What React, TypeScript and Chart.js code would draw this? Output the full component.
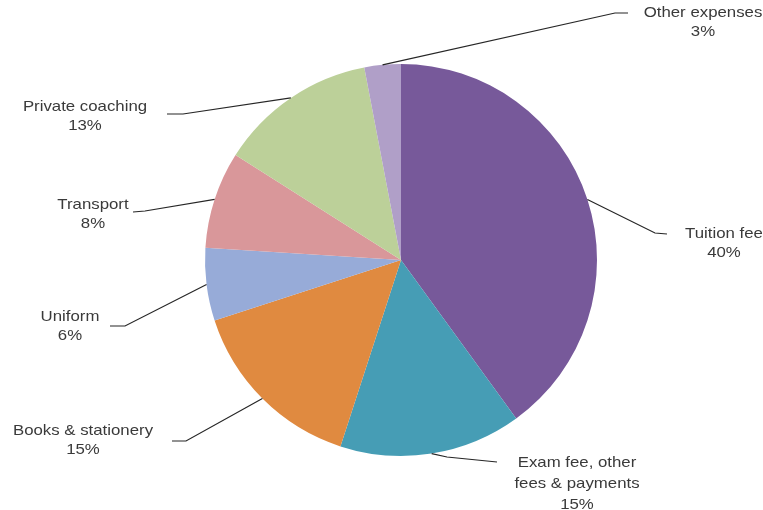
import React, { useEffect, useRef } from "react";
import { Chart, registerables } from "chart.js";

Chart.register(...registerables);

const categories = [
  "Tuition fee",
  "Exam fee, other fees & payments",
  "Books & stationery",
  "Uniform",
  "Transport",
  "Private coaching",
  "Other expenses",
];
const shares = [40, 15, 15, 6, 8, 13, 3];
const labelLines = [
  ["Tuition fee", "40%"],
  ["Exam fee, other", "fees & payments", "15%"],
  ["Books & stationery", "15%"],
  ["Uniform", "6%"],
  ["Transport", "8%"],
  ["Private coaching", "13%"],
  ["Other expenses", "3%"],
];
const colors = ["#77599A", "#469DB5", "#E08A40", "#97ABD8", "#D9979A", "#BCD099", "#B09FC8"];

// label layout: text centre x, first-line y, elbow point, end point
const labelLayout = [
  { tx: 724, ty: 234, gap: 19, elbow: [655, 233], end: [667, 234] },
  { tx: 577, ty: 463, gap: 21, elbow: [447, 457], end: [497, 462] },
  { tx: 83, ty: 431, gap: 19, elbow: [186, 441], end: [172, 441] },
  { tx: 70, ty: 317, gap: 19, elbow: [125, 326], end: [110, 326] },
  { tx: 93, ty: 205, gap: 19, elbow: [145, 211], end: [133, 212] },
  { tx: 85, ty: 107, gap: 19, elbow: [183, 114], end: [167, 114] },
  { tx: 703, ty: 13, gap: 19, elbow: [615, 13], end: [628, 13] },
];

const leaderPlugin = {
  id: "leaders",
  afterDraw(chart: any) {
    const ctx = chart.ctx;
    const meta = chart.getDatasetMeta(0);
    ctx.save();
    meta.data.forEach((arc: any, i: number) => {
      const p = arc.getProps(["x", "y", "startAngle", "endAngle", "outerRadius"], true);
      const mid = (p.startAngle + p.endAngle) / 2;
      const sx = p.x + Math.cos(mid) * p.outerRadius;
      const sy = p.y + Math.sin(mid) * p.outerRadius;
      const L = labelLayout[i];
      ctx.strokeStyle = "#262626";
      ctx.lineWidth = 1.2;
      ctx.beginPath();
      ctx.moveTo(sx, sy);
      ctx.lineTo(L.elbow[0], L.elbow[1]);
      ctx.lineTo(L.end[0], L.end[1]);
      ctx.stroke();
      ctx.fillStyle = "#3a3a3a";
      ctx.font = "15px 'Liberation Sans', Arial, sans-serif";
      ctx.textAlign = "center";
      ctx.textBaseline = "middle";
      labelLines[i].forEach((line, j) => {
        ctx.save();
        ctx.translate(L.tx, L.ty + j * L.gap);
        ctx.scale(1.12, 1);
        ctx.fillText(line, 0, 0);
        ctx.restore();
      });
    });
    ctx.restore();
  },
};

export default function App() {
  const ref = useRef<HTMLCanvasElement>(null);
  useEffect(() => {
    document.body.style.margin = "0";
    const chart = new Chart(ref.current!, {
      type: "pie",
      data: {
        labels: categories,
        datasets: [
          {
            data: shares,
            backgroundColor: colors,
            borderWidth: 0,
          },
        ],
      },
      options: {
        responsive: false,
        animation: false,
        layout: { padding: { left: 205, right: 166, top: 64, bottom: 54 } },
        plugins: { legend: { display: false }, tooltip: { enabled: false } },
      },
      plugins: [leaderPlugin],
    });
    return () => chart.destroy();
  }, []);
  return (
    <div style={{ width: 763, height: 510, background: "#fff" }}>
      <canvas ref={ref} width={763} height={510} />
    </div>
  );
}
